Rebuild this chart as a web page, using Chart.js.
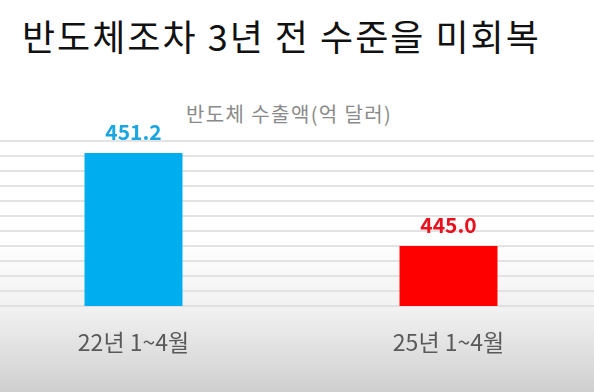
<!DOCTYPE html>
<html>
<head>
<meta charset="utf-8">
<script src="https://cdn.jsdelivr.net/npm/chart.js@4"></script>
<style>
  html, body { margin: 0; padding: 0; }
  body {
    width: 594px; height: 392px; overflow: hidden; position: relative;
    background: linear-gradient(to bottom, #ffffff 0px, #ffffff 240px, #f1f1f1 310px, #cfcfcf 392px);
    font-family: "Noto Sans CJK KR", "Noto Sans", sans-serif;
  }
  #title {
    position: absolute; left: 22px; top: 17px;
    font-size: 36px; line-height: 1; color: #111; letter-spacing: 2px;
    white-space: nowrap;
  }
  #subtitle {
    position: absolute; left: 186px; top: 104px;
    font-size: 20px; line-height: 1; color: #8a8a8a; letter-spacing: 1.4px;
    white-space: nowrap;
  }
  #chart { position: absolute; left: -24px; top: 0; }
</style>
</head>
<body>
<div id="title">반도체조차 3년 전 수준을 미회복</div>
<div id="subtitle">반도체 수출액(억 달러)</div>
<canvas id="chart" width="630" height="392"></canvas>
<script>
// 반도체 수출액 (억 달러)
var categories = ['22년 1~4월', '25년 1~4월'];
var values = [451.2, 445.0];
var barColors = ['#00aeef', '#fe0000'];
var labelColors = ['#1ba6e2', '#e8111d'];
var yMin = 441, yMax = 452;

// 막대 위 값 표시
var valueLabels = {
  id: 'valueLabels',
  afterDatasetsDraw: function(chart) {
    var ctx = chart.ctx;
    var meta = chart.getDatasetMeta(0);
    ctx.save();
    ctx.font = 'bold 21px "Noto Sans CJK KR", "Noto Sans", sans-serif';
    ctx.textAlign = 'center';
    ctx.textBaseline = 'alphabetic';
    meta.data.forEach(function(bar, i) {
      ctx.fillStyle = labelColors[i];
      ctx.fillText(values[i].toFixed(1), bar.x, bar.y - 13);
    });
    ctx.restore();
  }
};

var ctx = document.querySelector('#chart');
var myChart = new Chart(ctx, {
  type: 'bar',
  data: {
    labels: categories,
    datasets: [{
      data: values,
      backgroundColor: barColors,
      borderWidth: 0,
      barPercentage: 0.311,
      categoryPercentage: 1
    }]
  },
  options: {
    responsive: false,
    animation: false,
    devicePixelRatio: 1,
    layout: { padding: { top: 141, left: 0, right: 0, bottom: 0 } },
    plugins: {
      legend: { display: false },
      tooltip: { enabled: false }
    },
    scales: {
      x: {
        grid: { display: false, drawTicks: false },
        border: { display: true, color: '#e0e0e0', width: 2 },
        ticks: {
          color: '#595959',
          padding: 22,
          font: { size: 23, family: '"Noto Sans CJK KR", "Noto Sans", sans-serif' }
        },
        afterFit: function(scale) { scale.height = 86; }
      },
      y: {
        min: yMin,
        max: yMax,
        grid: { color: '#e3e3e3', lineWidth: 2, drawTicks: false },
        border: { display: false },
        ticks: { display: false, stepSize: 1 },
        afterFit: function(scale) { scale.width = 0; }
      }
    }
  },
  plugins: [valueLabels]
});
</script>
</body>
</html>
